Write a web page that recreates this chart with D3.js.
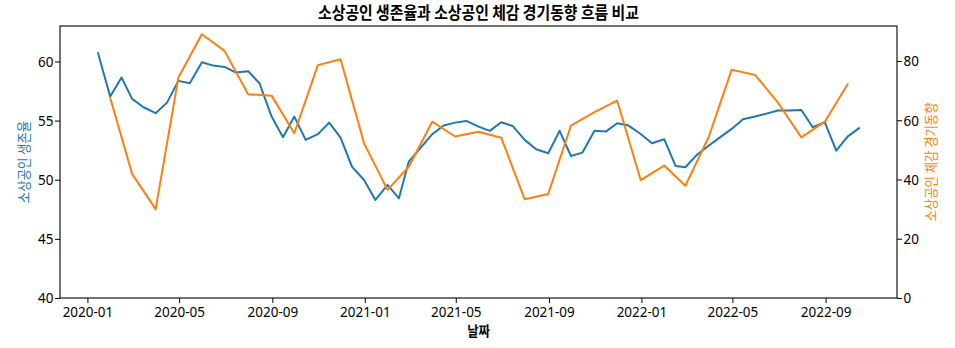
<!DOCTYPE html>
<html>
<head>
<meta charset="utf-8">
<script src="https://cdn.jsdelivr.net/npm/d3@7/dist/d3.min.js"></script>
<style>
  html, body { margin: 0; padding: 0; background: #fff; }
  svg { display: block; }
  .tick text { font-family: "Noto Sans", "DejaVu Sans", sans-serif; font-size: 15px; fill: #000; }
</style>
</head>
<body>
<svg id="chart" width="955" height="348"></svg>
<script>
// Semi-monthly survival rate (15th and month end), Jan 2020 – Oct 2022
const survivalValues = [
  60.70, 57.03, 58.64, 56.84, 56.13, 55.63, 56.52, 58.36, 58.16, 59.94, 59.65, 59.54,
  59.06, 59.18, 58.16, 55.34, 53.60, 55.34, 53.37, 53.85, 54.83, 53.56, 51.11, 49.98,
  48.29, 49.56, 48.43, 51.53, 52.66, 53.85, 54.58, 54.83, 54.97, 54.49, 54.13, 54.86,
  54.55, 53.37, 52.58, 52.24, 54.13, 52.01, 52.29, 54.15, 54.07, 54.78, 54.58, 53.87,
  53.09, 53.43, 51.17, 51.06, 52.10, 52.90, 53.60, 54.30, 55.12, 55.34, 55.59, 55.85,
  55.85, 55.90, 54.44, 54.86, 52.46, 53.65, 54.36
];

// Monthly business sentiment index (month end), Jan 2020 – Sep 2022
const sentimentValues = [
  67.6, 41.9, 30.0, 74.4, 89.0, 83.4, 68.8, 68.3, 55.6, 78.6, 80.6, 52.2,
  36.5, 44.3, 59.5, 54.5, 56.1, 54.1, 33.3, 35.1, 58.2, 62.7, 66.6, 39.8,
  44.7, 37.9, 54.5, 77.0, 75.3, 66.0, 54.2, 59.5, 72.1
];

const yLeftTicks = [40, 45, 50, 55, 60];
const yRightTicks = [0, 20, 40, 60, 80];

const titleText = "소상공인 생존율과 소상공인 체감 경기동향 흐름 비교";
const xLabelText = "날짜";
const yLeftLabel = "소상공인 생존율";
const yRightLabel = "소상공인 체감 경기동향";

const BLUE = "#1f77b4";
const ORANGE = "#ff7f0e";

// Date categories: semi-month ends and month ends
const months = d3.utcMonths(new Date(Date.UTC(2020, 0, 1)), new Date(Date.UTC(2022, 10, 1)));
const monthEnd = m => d3.utcDay.offset(d3.utcMonth.offset(m, 1), -1);
const survivalDates = [];
months.forEach(m => {
  survivalDates.push(new Date(Date.UTC(m.getUTCFullYear(), m.getUTCMonth(), 15)));
  survivalDates.push(monthEnd(m));
});
survivalDates.length = survivalValues.length;
const sentimentDates = months.slice(0, sentimentValues.length).map(monthEnd);

const survival = survivalDates.map((d, i) => ({ date: d, value: survivalValues[i] }));
const sentiment = sentimentDates.map((d, i) => ({ date: d, value: sentimentValues[i] }));

// Plot box
const plotL = 60, plotR = 897, plotT = 26, plotB = 298;

const svg = d3.select("#chart");

// x domain: data extent with 5% padding on each side
const allDates = survivalDates.concat(sentimentDates);
const [d0, d1] = d3.extent(allDates);
const pad = (d1 - d0) * 0.05;
const x = d3.scaleUtc()
  .domain([new Date(+d0 - pad), new Date(+d1 + pad)])
  .range([plotL, plotR]);

const yL = d3.scaleLinear().domain([40, 63]).range([plotB, plotT]);
const yR = d3.scaleLinear().domain([0, 91.8]).range([plotB, plotT]);

// Korean text helper: slightly condensed glyphs
function koText(px, py, txt, opts) {
  const g = svg.append("g")
    .attr("transform", `translate(${px},${py}) rotate(${opts.rotate || 0}) scale(0.89,1)`);
  g.append("text")
    .attr("text-anchor", "middle")
    .attr("dominant-baseline", opts.baseline || "alphabetic")
    .attr("font-family", '"Noto Sans CJK KR", "Noto Sans", sans-serif')
    .attr("font-size", opts.size)
    .attr("font-weight", opts.weight || "normal")
    .attr("fill", opts.color || "#000")
    .text(txt);
}

// Lines
const lineL = d3.line().x(d => x(d.date)).y(d => yL(d.value));
const lineR = d3.line().x(d => x(d.date)).y(d => yR(d.value));

svg.append("path").datum(survival)
  .attr("d", lineL).attr("fill", "none")
  .attr("stroke", BLUE).attr("stroke-width", 2)
  .attr("stroke-linejoin", "round").attr("stroke-linecap", "square");

svg.append("path").datum(sentiment)
  .attr("d", lineR).attr("fill", "none")
  .attr("stroke", ORANGE).attr("stroke-width", 2)
  .attr("stroke-linejoin", "round").attr("stroke-linecap", "square");

// Axes
const xAxis = d3.axisBottom(x)
  .ticks(d3.utcMonth.every(4))
  .tickFormat(d3.utcFormat("%Y-%m"))
  .tickSize(5).tickPadding(3);
const gx = svg.append("g").attr("transform", `translate(0,${plotB})`).call(xAxis);

const gl = svg.append("g").attr("transform", `translate(${plotL},0)`)
  .call(d3.axisLeft(yL).tickValues(yLeftTicks).tickSize(5).tickPadding(2));

const gr = svg.append("g").attr("transform", `translate(${plotR},0)`)
  .call(d3.axisRight(yR).tickValues(yRightTicks).tickSize(5).tickPadding(2));

[gx, gl, gr].forEach(g => {
  g.select(".domain").remove();
  g.selectAll(".tick line").attr("stroke", "#000").attr("stroke-width", 1);
});

// Narrow the tick label glyphs, keeping each label anchored at its tick
gx.selectAll(".tick text").attr("transform", "scale(0.9,1)");
gl.selectAll(".tick text").attr("transform", "translate(-6.5,0) scale(0.9,1)").attr("x", 0);
gr.selectAll(".tick text").attr("transform", "translate(6.5,0) scale(0.9,1)").attr("x", 0);

// Frame
svg.append("rect")
  .attr("x", plotL).attr("y", plotT)
  .attr("width", plotR - plotL).attr("height", plotB - plotT)
  .attr("fill", "none").attr("stroke", "#000").attr("stroke-width", 1.1);

// Titles and labels
koText((plotL + plotR) / 2, 19, titleText, { size: 16.7, weight: "bold" });
koText((plotL + plotR) / 2, 336, xLabelText, { size: 13.9, weight: "bold" });
koText(23, (plotT + plotB) / 2, yLeftLabel, { size: 13.9, rotate: -90, baseline: "central", color: BLUE });
koText(930, (plotT + plotB) / 2, yRightLabel, { size: 13.9, rotate: -90, baseline: "central", color: ORANGE });
</script>
</body>
</html>
